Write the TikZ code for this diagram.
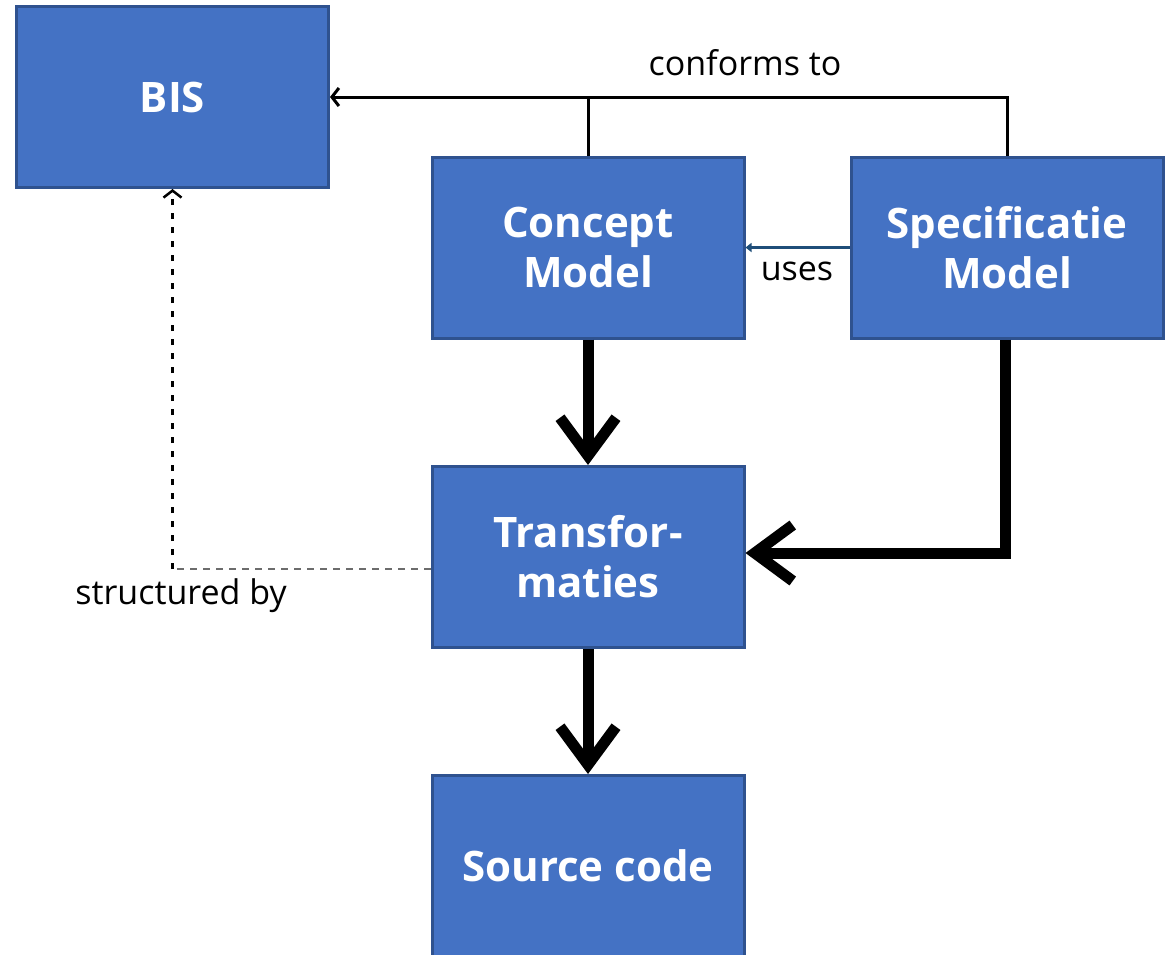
\documentclass[tikz,border=0pt]{standalone}
\usepackage{fontspec}
\setmainfont{Open Sans}
\usetikzlibrary{arrows.meta}
\definecolor{boxfill}{HTML}{4472C4}
\definecolor{boxline}{HTML}{2F528F}
\definecolor{usesblue}{HTML}{1F4E79}
\tikzset{
  blk/.style={draw=boxline, line width=3pt, fill=boxfill, minimum width=312pt, minimum height=181pt,
    inner sep=0pt, text=white, font=\fontsize{42}{50}\selectfont\bfseries, align=center},
  lbl/.style={font=\fontsize{34}{38}\selectfont, text=black, inner sep=0pt},
  thin/.style={line width=3pt, draw=black},
  thick/.style={line width=11pt, draw=black, -{Straight Barb[length=38pt,width=56pt]}},
}
\begin{document}
\begin{tikzpicture}[x=1pt,y=-1pt]
\useasboundingbox (0,0) rectangle (1171,954);
\clip (0,0) rectangle (1171,954);
\node[blk] (bis) at (172.5,97) {BIS};
\node[blk] (cm) at (588,247.5) {Concept\\Model};
\node[blk] (spec) at (1007,247.5) {Specificatie\\Model};
\node[blk] (trans) at (588,557) {Transfor-\\maties};
\node[blk] (src) at (588,866) {Source code};
% conforms to
\draw[thin, -{Straight Barb[length=7pt,width=18pt]}] (spec.north) |- (bis.east);
\draw[thin] (cm.north) -- (cm.north |- bis.east);
\node[lbl] (conf) at (745,63) {conforms to};
% uses
\draw[line width=2.5pt, draw=usesblue, -{Triangle[length=6pt,width=9pt]}, usesblue] (spec.west) -- (cm.east);
\node[lbl] (uses) at (797,271) {uses};
% thick arrows
\draw[thick] (cm.south) -- (trans.north);
\draw[thick] (trans.south) -- (src.north);
\draw[thick] ([xshift=-2pt]spec.south) |- ([yshift=4pt]trans.east);
% structured by
\coordinate (sb) at ([yshift=-12pt]trans.west);
\coordinate (corner) at (sb -| bis.south);
\draw[line width=2.5pt, draw=gray!85!black, dash pattern=on 7pt off 6pt] (sb) -- (corner);
\draw[line width=2.5pt, dash pattern=on 6pt off 8pt, -{Straight Barb[length=7pt,width=18pt]}] (corner) -- (bis.south);
\node[lbl] (sbl) at (181,596) {structured by};
\end{tikzpicture}
\end{document}
